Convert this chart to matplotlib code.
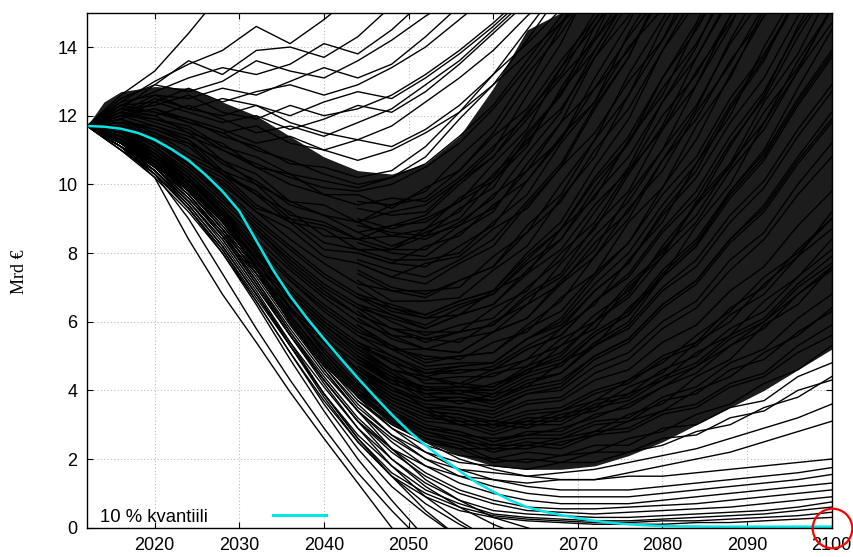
import matplotlib
matplotlib.use("Agg")
import matplotlib.pyplot as plt

# yearly grid of the simulated paths (every 4 years)
years = [2012, 2016, 2020, 2024, 2028, 2032, 2036, 2040, 2044, 2048, 2052, 2056,
         2060, 2064, 2068, 2072, 2076, 2080, 2084, 2088, 2092, 2096, 2100]
late_years = years[8:]   # segments that come out of the dense core (2044 ->)

# 10 % quantile (every 2 years)
q_years = list(range(2012, 2101, 2))
q10 = [11.70, 11.68, 11.62, 11.50, 11.30, 11.02, 10.70, 10.28, 9.80, 9.22,
       8.36, 7.50, 6.75, 6.10, 5.50, 4.92, 4.36, 3.82, 3.30, 2.82, 2.40, 2.02,
       1.66, 1.32, 1.05, 0.80, 0.60, 0.47, 0.37, 0.28, 0.20, 0.14, 0.10, 0.07,
       0.05, 0.04, 0.035, 0.03, 0.03, 0.03, 0.03, 0.03, 0.03, 0.03, 0.03]

# solid core of the fan, where the paths overlap completely
core_years = [2012, 2014, 2016, 2020, 2024, 2028, 2032, 2036, 2040, 2044, 2048, 2052]
core_low = [11.7, 11.4, 11.2, 10.5, 9.8, 8.9, 7.5, 5.9, 4.7, 3.8, 3.5, 6.0]
core_high = [11.7, 12.4, 12.7, 12.85, 12.8, 12.4, 12.0, 11.4, 10.8, 10.3, 9.4, 6.0]

# dense, almost black part of the fan (lines too close to tell apart)
dense_years = [2040, 2044, 2048, 2052, 2056, 2060, 2064, 2068, 2072, 2076, 2080,
               2084, 2088, 2092, 2096, 2100]
dense_low = [4.8, 3.8, 3.0, 2.5, 2.1, 1.8, 1.7, 1.7, 1.8, 2.1, 2.5, 3.0, 3.5, 4.0, 4.6, 5.2]
dense_high = [10.8, 10.4, 10.3, 10.6, 11.4, 12.8, 14.5, 15, 15, 15, 15, 15, 15, 15, 15, 15]

upper_paths = [
    [11.7, 12.6, 13.3, 14.4, 15.6],
    [11.7, 12.4, 13.0, 13.5, 13.9, 14.6, 14.1, 14.8, 15.6],
    [11.7, 12.5, 12.9, 13.6, 13.2, 13.9, 14.0, 13.7, 14.3, 15.2],
    [11.7, 12.3, 12.7, 13.1, 13.4, 13.2, 13.5, 14.1, 13.8, 14.5, 15.4],
    [11.7, 12.2, 12.9, 12.7, 13.0, 13.6, 13.3, 13.1, 13.6, 14.2, 14.9, 15.5],
    [11.7, 12.1, 12.6, 12.5, 12.8, 12.6, 13.0, 13.4, 13.1, 13.5, 14.3, 15.2],
    [11.7, 12.3, 12.4, 12.8, 12.4, 12.7, 12.9, 12.6, 12.9, 13.4, 14.0, 14.8, 15.6],
    [11.7, 12.0, 12.5, 12.2, 12.5, 12.3, 12.0, 12.4, 12.7, 12.5, 13.1, 13.8, 14.6, 15.5],
    [11.7, 12.2, 12.3, 12.6, 12.1, 11.9, 12.3, 12.0, 12.2, 12.6, 13.2, 13.9, 14.7, 15.6],
    [11.7, 11.9, 12.4, 12.1, 11.8, 12.0, 11.6, 11.9, 12.3, 12.1, 12.7, 13.5, 14.4, 15.3],
    [11.7, 12.1, 12.0, 12.3, 11.9, 11.5, 11.7, 11.4, 11.8, 12.2, 12.9, 13.6, 14.5, 15.4],
    [11.7, 12.4, 12.6, 12.2, 12.0, 12.3, 11.8, 11.5, 11.3, 11.7, 12.4, 13.1, 13.9, 14.9, 15.8],
    [11.7, 12.2, 12.1, 11.8, 11.5, 11.7, 11.2, 11.0, 11.3, 11.1, 11.6, 12.3, 13.2, 14.1, 15.1],
    [11.7, 12.0, 12.2, 11.9, 11.6, 11.2, 11.4, 11.0, 10.7, 11.0, 11.5, 12.1, 12.9, 13.8, 14.7, 15.6],
]

middle_paths = [
    [11.7, 12.0, 11.9, 11.6, 11.0, 10.5, 10.0, 9.7, 9.4, 9.6, 9.5, 10.2, 11.1, 12.0, 13.4, 14.6, 15.9],
    [11.7, 11.8, 11.6, 11.2, 10.7, 10.0, 9.5, 9.1, 8.9, 9.2, 9.4, 10.1, 10.8, 11.9, 13.1, 14.2, 15.7],
    [11.7, 12.2, 12.0, 11.5, 11.2, 10.5, 10.3, 9.7, 9.7, 9.3, 9.9, 10.4, 11.4, 12.2, 13.6, 14.8, 16.1],
    [11.7, 11.9, 11.6, 11.3, 10.6, 10.1, 9.4, 9.1, 8.6, 8.8, 8.9, 9.5, 10.1, 11.3, 12.2, 13.7, 14.9, 16.2],
    [11.7, 11.6, 11.5, 10.9, 10.4, 9.7, 9.2, 8.5, 8.4, 8.1, 8.5, 8.8, 9.7, 10.4, 11.8, 12.8, 14.3, 15.6],
    [11.7, 12.1, 11.8, 11.5, 10.7, 10.3, 9.5, 9.4, 8.9, 9.4, 9.8, 10.8, 11.7, 13.2, 14.4, 15.9],
    [11.7, 11.7, 11.4, 10.8, 10.3, 9.4, 8.9, 8.1, 8.0, 7.7, 8.2, 8.5, 9.4, 10.1, 11.4, 12.4, 14.0, 15.1, 16.4],
    [11.7, 11.5, 11.3, 10.7, 10.2, 9.3, 9.0, 8.3, 8.1, 8.1, 8.7, 9.2, 10.3, 11.2, 12.7, 13.9, 15.5],
    [11.7, 12.0, 11.7, 11.3, 10.4, 10.0, 9.1, 8.9, 8.4, 8.5, 8.7, 9.6, 10.2, 11.5, 12.6, 14.2, 15.4],
    [11.7, 11.9, 11.4, 11.2, 10.3, 9.7, 8.9, 8.7, 8.1, 8.1, 8.1, 8.8, 9.3, 10.4, 11.3, 12.8, 13.9, 15.5],
    [11.7, 11.6, 11.3, 10.6, 10.1, 9.2, 8.7, 7.9, 7.7, 7.3, 7.7, 7.9, 8.7, 9.3, 10.5, 11.5, 13.0, 14.2, 15.8],
    [11.7, 11.9, 11.5, 11.1, 10.3, 9.8, 9.0, 8.8, 8.4, 8.8, 9.1, 10.0, 10.8, 12.1, 13.2, 14.8, 16.0],
    [11.7, 12.1, 11.9, 11.7, 11.1, 10.8, 10.3, 10.1, 9.9, 10.2, 10.6, 11.4, 12.3, 13.6, 14.9, 16.2],
    [11.7, 12.3, 12.1, 11.9, 11.4, 11.1, 10.6, 10.5, 10.2, 10.4, 11.1, 12.1, 13.2, 14.5, 15.8],
    [11.7, 11.8, 11.7, 11.4, 11.0, 10.6, 10.2, 9.9, 9.8, 10.0, 10.5, 11.2, 12.2, 13.4, 14.7, 16.0],
    [11.7, 12.0, 12.2, 11.8, 11.5, 11.0, 10.7, 10.3, 10.0, 10.2, 10.8, 11.9, 12.9, 14.2, 15.6],
]

lower_paths = [
    [11.7, 11.6, 11.2, 10.5, 9.6, 8.7, 7.8, 7.0, 6.4, 6.1, 5.8, 6.2, 6.5, 7.4, 8.1, 9.4, 10.4, 12.0, 13.2, 14.9, 16.0],
    [11.7, 11.8, 11.3, 10.7, 9.9, 9.0, 8.2, 7.4, 6.8, 6.5, 6.2, 6.6, 6.9, 7.9, 8.7, 10.1, 11.2, 12.8, 14.1, 15.8],
    [11.7, 11.5, 11.0, 10.3, 9.4, 8.4, 7.5, 6.7, 6.0, 5.6, 5.2, 5.5, 5.7, 6.5, 7.1, 8.3, 9.2, 10.7, 11.9, 13.6, 14.9, 16.4],
    [11.7, 11.7, 11.1, 10.4, 9.5, 8.6, 7.6, 6.8, 6.2, 5.8, 5.7, 5.7, 6.4, 6.9, 8.0, 8.9, 10.4, 11.6, 13.3, 14.7, 16.2],
    [11.7, 11.4, 10.9, 10.1, 9.2, 8.2, 7.2, 6.4, 5.7, 5.3, 4.8, 5.0, 5.1, 5.8, 6.3, 7.4, 8.3, 9.7, 10.8, 12.5, 13.8, 15.4],
    [11.7, 11.6, 11.1, 10.3, 9.3, 8.3, 7.3, 6.5, 5.8, 5.2, 5.2, 5.1, 5.7, 6.1, 7.1, 7.9, 9.3, 10.4, 12.1, 13.5, 15.2],
    [11.7, 11.5, 10.8, 10.0, 9.0, 7.9, 6.9, 6.0, 5.3, 4.9, 4.4, 4.6, 4.6, 5.2, 5.6, 6.6, 7.4, 8.7, 9.8, 11.4, 12.7, 14.5, 15.9],
    [11.7, 11.3, 10.8, 9.9, 8.9, 7.8, 6.8, 5.9, 5.2, 4.6, 4.4, 4.1, 4.5, 4.7, 5.5, 6.0, 7.1, 8.0, 9.4, 10.5, 12.1, 13.4, 15.1],
    [11.7, 11.6, 11.0, 10.2, 9.1, 8.0, 7.0, 6.1, 5.4, 5.0, 4.5, 4.7, 4.8, 5.5, 6.0, 7.1, 8.0, 9.4, 10.6, 12.3, 13.7, 15.4],
    [11.7, 11.4, 10.7, 9.8, 8.8, 7.7, 6.7, 5.8, 5.0, 4.5, 3.9, 4.0, 3.9, 4.4, 4.7, 5.6, 6.2, 7.4, 8.3, 9.7, 10.8, 12.4, 13.8],
    [11.7, 11.2, 10.6, 9.7, 8.6, 7.5, 6.4, 5.5, 4.8, 4.3, 3.7, 3.8, 3.7, 4.2, 4.5, 5.3, 5.9, 7.0, 7.8, 9.1, 10.1, 11.6, 12.9],
    [11.7, 11.5, 10.9, 10.0, 8.9, 7.8, 6.8, 5.9, 5.1, 4.6, 4.0, 4.1, 4.1, 4.7, 5.1, 6.0, 6.7, 7.9, 8.9, 10.4, 11.6, 13.3, 14.7],
    [11.7, 11.3, 10.5, 9.6, 8.5, 7.4, 6.3, 5.4, 4.6, 4.1, 3.5, 3.5, 3.4, 3.9, 4.1, 4.9, 5.4, 6.4, 7.1, 8.3, 9.2, 10.6, 11.8],
    [11.7, 11.6, 11.2, 10.5, 9.7, 8.8, 7.9, 7.1, 6.5, 6.2, 5.9, 6.4, 6.8, 7.8, 8.7, 10.2, 11.4, 13.1, 14.5, 16.2],
    [11.7, 11.8, 11.4, 10.8, 10.0, 9.2, 8.4, 7.7, 7.1, 6.9, 6.7, 7.2, 7.6, 8.6, 9.5, 11.0, 12.2, 13.9, 15.3],
    [11.7, 11.5, 11.2, 10.6, 9.8, 8.9, 8.1, 7.3, 6.7, 6.4, 6.1, 6.5, 6.8, 7.7, 8.4, 9.7, 10.8, 12.4, 13.7, 15.5],
    [11.7, 11.7, 11.3, 10.6, 9.7, 8.7, 7.7, 6.9, 6.2, 5.8, 5.4, 5.7, 5.9, 6.7, 7.3, 8.5, 9.5, 11.0, 12.3, 14.1, 15.5],
    [11.7, 11.4, 10.8, 10.1, 9.2, 8.2, 7.2, 6.3, 5.6, 5.2, 4.7, 4.8, 4.8, 5.5, 5.9, 6.9, 7.7, 9.1, 10.2, 11.8, 13.1, 14.9, 16.3],
    [11.7, 11.6, 10.9, 10.1, 9.1, 8.0, 6.9, 6.0, 5.3, 4.8, 4.2, 4.2, 4.1, 4.6, 4.9, 5.7, 6.3, 7.5, 8.4, 9.8, 10.9, 12.5, 13.9],
    [11.7, 11.3, 10.7, 9.8, 8.7, 7.6, 6.6, 5.7, 4.9, 4.4, 3.8, 3.8, 3.6, 4.0, 4.2, 5.0, 5.5, 6.5, 7.2, 8.4, 9.3, 10.7, 11.9],
]

bottom_paths = [
    [11.7, 11.4, 10.9, 10.2, 9.2, 8.0, 6.6, 5.4, 4.4, 3.7, 3.3, 3.0, 3.0, 3.1, 3.4, 3.7, 4.3, 4.8, 5.6, 6.3, 7.3, 8.0, 9.0],
    [11.7, 11.3, 10.8, 10.0, 9.0, 7.8, 6.4, 5.2, 4.2, 3.4, 2.9, 2.7, 2.6, 2.7, 2.9, 3.2, 3.6, 4.1, 4.7, 5.3, 6.0, 6.8, 7.6],
    [11.7, 11.2, 10.7, 9.9, 8.9, 7.6, 6.2, 5.0, 3.9, 3.1, 2.6, 2.3, 2.3, 2.3, 2.5, 2.7, 3.1, 3.4, 4.0, 4.4, 5.1, 5.6, 6.4],
    [11.7, 11.3, 10.7, 9.9, 8.8, 7.5, 6.1, 4.8, 3.7, 2.9, 2.4, 2.1, 2.0, 1.9, 2.1, 2.2, 2.6, 2.8, 3.3, 3.6, 4.2, 4.6, 5.3],
    [11.7, 11.1, 10.6, 9.8, 8.7, 7.4, 6.0, 4.7, 3.5, 2.7, 2.2, 1.9, 1.8, 1.7, 1.9, 1.9, 2.2, 2.4, 2.8, 3.0, 3.5, 3.8, 4.4],
    [11.7, 11.2, 10.6, 9.7, 8.6, 7.2, 5.8, 4.5, 3.4, 2.6, 2.0, 1.7, 1.6, 1.5, 1.6, 1.7, 1.9, 2.1, 2.3, 2.6, 2.9, 3.2, 3.6],
    [11.7, 11.4, 10.9, 10.2, 9.3, 8.1, 6.8, 5.6, 4.6, 3.9, 3.5, 3.1, 3.1, 3.0, 3.3, 3.5, 4.1, 4.5, 5.4, 6.0, 7.1, 7.9, 9.2],
    [11.7, 11.2, 10.5, 9.6, 8.5, 7.1, 5.6, 4.3, 3.1, 2.3, 1.8, 1.5, 1.4, 1.3, 1.4, 1.4, 1.6, 1.8, 2.0, 2.2, 2.5, 2.8, 3.1],
    [11.7, 11.3, 10.8, 10.1, 9.1, 7.8, 6.4, 5.1, 4.1, 3.3, 2.8, 2.5, 2.4, 2.4, 2.6, 2.8, 3.3, 3.6, 4.4, 4.9, 5.9, 6.5, 7.6],
    [11.7, 11.4, 10.9, 10.1, 9.2, 8.0, 6.7, 5.5, 4.5, 3.8, 3.4, 3.0, 3.0, 2.9, 3.2, 3.4, 3.9, 4.3, 5.1, 5.6, 6.6, 7.3, 8.4],
]

flat_paths = [
    [11.7, 11.3, 10.8, 10.1, 9.1, 7.8, 6.4, 5.1, 4.0, 3.1, 2.5, 2.0, 1.7, 1.5, 1.4, 1.4, 1.5, 1.5, 1.6, 1.7, 1.8, 1.9, 2.0],
    [11.7, 11.2, 10.7, 9.9, 8.9, 7.6, 6.2, 4.9, 3.8, 2.9, 2.2, 1.7, 1.4, 1.2, 1.1, 1.1, 1.1, 1.2, 1.3, 1.4, 1.5, 1.6, 1.75],
    [11.7, 11.3, 10.6, 9.8, 8.7, 7.4, 6.0, 4.7, 3.6, 2.7, 2.0, 1.5, 1.2, 1.0, 0.9, 0.9, 0.9, 1.0, 1.1, 1.2, 1.3, 1.4, 1.55],
    [11.7, 11.1, 10.5, 9.7, 8.6, 7.3, 5.9, 4.6, 3.4, 2.5, 1.8, 1.3, 1.0, 0.8, 0.7, 0.7, 0.7, 0.8, 0.9, 1.0, 1.1, 1.2, 1.3],
    [11.7, 11.2, 10.5, 9.6, 8.5, 7.1, 5.7, 4.4, 3.2, 2.3, 1.6, 1.1, 0.8, 0.6, 0.55, 0.55, 0.6, 0.65, 0.7, 0.8, 0.9, 1.0, 1.1],
    [11.7, 11.0, 10.4, 9.5, 8.4, 7.0, 5.6, 4.3, 3.1, 2.2, 1.5, 1.0, 0.7, 0.5, 0.45, 0.4, 0.45, 0.5, 0.55, 0.6, 0.7, 0.8, 0.9],
    [11.7, 11.1, 10.3, 9.4, 8.2, 6.8, 5.4, 4.1, 2.9, 2.0, 1.3, 0.8, 0.5, 0.4, 0.35, 0.3, 0.3, 0.35, 0.4, 0.45, 0.5, 0.6, 0.75],
    [11.7, 11.0, 10.3, 9.3, 8.1, 6.7, 5.3, 3.9, 2.7, 1.8, 1.1, 0.7, 0.4, 0.3, 0.25, 0.2, 0.2, 0.25, 0.3, 0.35, 0.4, 0.5, 0.6],
    [11.7, 11.2, 10.4, 9.4, 8.2, 6.8, 5.3, 3.9, 2.6, 1.6, 1.0, 0.6, 0.35, 0.25, 0.2, 0.15, 0.15, 0.2, 0.2, 0.25, 0.3, 0.35, 0.45],
    [11.7, 11.0, 10.2, 9.2, 8.0, 6.6, 5.1, 3.7, 2.5, 1.5, 0.9, 0.5, 0.3, 0.2, 0.15, 0.1, 0.1, 0.1, 0.15, 0.15, 0.2, 0.25, 0.3],
]

zero_paths = [
    [11.7, 11.1, 10.2, 8.4, 6.8, 5.4, 3.95, 2.6, 1.3, 0.0, -1.2],
    [11.7, 11.1, 10.3, 9.3, 8.0, 6.5, 4.9, 3.4, 2.0, 0.8, -0.3],
    [11.7, 11.2, 10.5, 9.5, 8.3, 6.9, 5.4, 3.9, 2.6, 1.5, 0.5, -0.3],
    [11.7, 11.1, 10.4, 9.5, 8.4, 7.0, 5.6, 4.2, 2.9, 1.8, 0.9, 0.2, -0.4],
    [11.7, 11.3, 10.6, 9.7, 8.5, 7.2, 5.7, 4.3, 3.1, 2.0, 1.2, 0.6, 0.1, -0.3],
    [11.7, 11.2, 10.4, 9.4, 8.2, 6.8, 5.3, 3.8, 2.5, 1.5, 0.7, 0.1, -0.4],
    [11.7, 11.3, 10.6, 9.8, 8.7, 7.4, 6.0, 4.6, 3.4, 2.3, 1.4, 0.8, 0.3, 0.0, -0.3],
    [11.7, 11.1, 10.3, 9.3, 8.1, 6.6, 5.1, 3.6, 2.3, 1.2, 0.4, -0.3],
    [11.7, 11.1, 10.3, 9.0, 7.4, 5.8, 4.3, 2.9, 1.6, 0.5, -0.5],
]

# visible parts of paths after they leave the solid core (from 2044)
rising_segments = [
    [9.0, 8.7, 9.0, 9.5, 10.6, 11.6, 13.4, 15.0, 16.3],
    [8.3, 8.0, 7.9, 8.6, 9.2, 10.6, 11.8, 13.7, 15.3],
    [7.7, 7.3, 7.1, 7.7, 8.2, 9.4, 10.5, 12.2, 13.7, 15.7],
    [7.2, 6.6, 6.6, 6.7, 7.5, 8.2, 9.6, 10.8, 12.6, 14.2, 16.2],
    [6.7, 6.2, 5.8, 6.2, 6.5, 7.5, 8.4, 9.9, 11.2, 13.1, 14.7, 16.7],
    [6.3, 5.6, 5.5, 5.4, 6.0, 6.5, 7.7, 8.7, 10.3, 11.7, 13.7, 15.4],
    [5.9, 5.3, 4.9, 5.0, 5.1, 5.9, 6.6, 7.9, 9.0, 10.7, 12.2, 14.2, 15.9],
    [9.3, 9.1, 9.2, 10.1, 11.0, 12.6, 14.1, 16.1],
    [8.6, 8.2, 8.6, 9.0, 10.1, 11.1, 12.8, 14.3, 16.3],
    [8.0, 7.7, 7.6, 8.2, 8.8, 10.1, 11.3, 13.1, 14.7, 16.7],
    [7.4, 6.9, 6.9, 7.0, 7.9, 8.6, 10.0, 11.3, 13.2, 14.8, 16.5],
    [7.0, 6.4, 6.2, 6.6, 6.9, 8.0, 8.9, 10.5, 11.9, 13.9, 15.6],
    [6.5, 6.0, 5.6, 5.9, 6.1, 7.0, 7.8, 9.2, 10.5, 12.4, 14.0, 16.1],
    [6.1, 5.5, 5.2, 5.1, 5.7, 6.1, 7.2, 8.1, 9.7, 11.0, 12.9, 14.6, 16.7],
    [5.6, 5.0, 4.6, 4.7, 4.8, 5.5, 6.1, 7.3, 8.3, 9.9, 11.3, 13.2, 14.9, 16.8],
    [5.3, 4.6, 4.4, 4.2, 4.6, 4.9, 5.8, 6.5, 7.8, 8.9, 10.6, 12.0, 14.0, 15.7],
    [5.1, 4.5, 4.0, 4.0, 4.0, 4.6, 5.0, 6.0, 6.8, 8.2, 9.4, 11.1, 12.6, 14.6, 16.3],
    [4.9, 4.2, 3.9, 3.6, 3.9, 4.1, 4.8, 5.3, 6.4, 7.3, 8.8, 10.0, 11.8, 13.3, 15.2],
    [8.9, 8.5, 8.4, 8.9, 9.6, 10.9, 12.1, 13.9, 15.5],
    [8.1, 7.8, 7.8, 8.0, 8.9, 9.7, 11.2, 12.4, 14.4, 16.0],
    [7.5, 7.0, 6.8, 7.2, 7.6, 8.8, 9.7, 11.3, 12.6, 14.6, 16.2],
    [6.8, 6.3, 6.1, 6.2, 6.9, 7.4, 8.7, 9.6, 11.3, 12.6, 14.6, 16.2],
    [6.4, 5.8, 5.5, 5.7, 5.9, 6.8, 7.4, 8.8, 9.8, 11.6, 12.9, 14.9, 16.5],
    [5.9, 5.2, 5.0, 4.9, 5.4, 5.7, 6.7, 7.4, 8.9, 9.9, 11.7, 13.1, 15.1],
    [5.4, 4.8, 4.5, 4.5, 4.7, 5.3, 5.8, 6.9, 7.7, 9.2, 10.4, 12.2, 13.6, 15.6],
    [5.0, 4.3, 4.1, 3.9, 4.2, 4.5, 5.3, 5.8, 7.0, 7.9, 9.5, 10.6, 12.4, 13.8, 15.7],
    [4.7, 4.0, 3.7, 3.7, 3.7, 4.2, 4.5, 5.4, 6.0, 7.3, 8.2, 9.8, 11.0, 12.8, 14.5],
    [9.5, 9.4, 9.6, 10.4, 11.5, 12.9, 14.6, 16.4],
    [8.8, 8.6, 8.5, 9.3, 9.9, 11.4, 12.6, 14.6, 16.1],
    [7.8, 7.5, 7.3, 7.8, 8.4, 9.5, 10.6, 12.3, 13.7, 15.8],
]

slow_segments = [
    [4.4, 3.8, 3.4, 3.3, 3.1, 3.4, 3.5, 4.0, 4.3, 5.0, 5.4, 6.4, 7.0, 8.1, 9.0],
    [4.2, 3.6, 3.1, 3.0, 2.7, 3.0, 3.0, 3.5, 3.7, 4.3, 4.7, 5.5, 6.0, 7.0, 7.7],
    [4.6, 4.0, 3.6, 3.5, 3.3, 3.7, 3.8, 4.5, 4.9, 5.8, 6.4, 7.5, 8.4, 9.7, 10.8],
    [4.0, 3.3, 2.9, 2.7, 2.4, 2.6, 2.6, 3.0, 3.1, 3.7, 3.9, 4.6, 4.9, 5.7, 6.3],
    [4.8, 4.2, 3.9, 3.9, 3.7, 4.1, 4.3, 5.0, 5.5, 6.5, 7.2, 8.4, 9.4, 10.8, 12.1],
    [3.9, 3.2, 2.7, 2.5, 2.2, 2.4, 2.3, 2.7, 2.8, 3.3, 3.5, 4.1, 4.4, 5.1, 5.6],
    [5.0, 4.4, 4.1, 4.1, 4.0, 4.5, 4.8, 5.6, 6.2, 7.3, 8.2, 9.6, 10.7, 12.3, 13.7],
    [4.3, 3.7, 3.3, 3.2, 2.9, 3.2, 3.2, 3.7, 3.9, 4.6, 5.0, 5.8, 6.3, 7.3, 8.1],
    [3.8, 3.1, 2.6, 2.4, 2.0, 2.2, 2.1, 2.4, 2.4, 2.9, 3.0, 3.5, 3.7, 4.4, 4.8],
    [4.5, 3.9, 3.5, 3.4, 3.2, 3.6, 3.7, 4.3, 4.6, 5.4, 5.9, 6.9, 7.6, 8.8, 9.8],
    [4.1, 3.5, 3.0, 2.8, 2.5, 2.7, 2.7, 3.1, 3.2, 3.8, 4.1, 4.8, 5.2, 6.1, 6.8],
    [4.9, 4.3, 4.0, 4.0, 3.8, 4.3, 4.5, 5.3, 5.8, 6.9, 7.6, 8.9, 9.9, 11.4, 12.7],
    [3.7, 3.0, 2.5, 2.3, 1.9, 2.0, 1.9, 2.2, 2.2, 2.6, 2.7, 3.2, 3.4, 4.0, 4.3],
    [4.7, 4.1, 3.7, 3.7, 3.5, 3.9, 4.0, 4.7, 5.1, 6.0, 6.6, 7.8, 8.6, 10.0, 11.2],
    [4.3, 3.6, 3.2, 3.1, 2.8, 3.1, 3.1, 3.6, 3.8, 4.4, 4.8, 5.6, 6.1, 7.1, 7.9],
    [5.2, 4.6, 4.3, 4.4, 4.4, 4.9, 5.3, 6.2, 6.9, 8.1, 9.1, 10.6, 11.8, 13.6, 15.1],
    [3.9, 3.2, 2.8, 2.6, 2.3, 2.5, 2.4, 2.8, 2.9, 3.4, 3.6, 4.2, 4.5, 5.3, 5.9],
    [4.5, 3.8, 3.4, 3.3, 3.0, 3.3, 3.4, 3.9, 4.2, 4.9, 5.3, 6.2, 6.8, 7.9, 8.7],
    [5.4, 4.8, 4.5, 4.6, 4.6, 5.2, 5.6, 6.6, 7.3, 8.6, 9.6, 11.2, 12.5, 14.3, 15.9],
    [4.0, 3.4, 2.9, 2.8, 2.5, 2.8, 2.8, 3.3, 3.5, 4.1, 4.5, 5.3, 5.8, 6.8, 7.5],
]

legend_label = "10 % kvantiili"
marked_point = (2100, 0.0)

plt.rcParams['font.family'] = ['Liberation Sans', 'DejaVu Sans']

fig = plt.figure(figsize=(8.54, 5.57), dpi=100)
ax = fig.add_axes([0.1019, 0.0526, 0.8720, 0.9246])

fan_color = '#1c1c1c'
ax.fill_between(dense_years, dense_low, dense_high, color=fan_color, lw=0, zorder=1)
ax.fill_between(core_years, core_low, core_high, color=fan_color, lw=0, zorder=1)

for group in (upper_paths, middle_paths, lower_paths, bottom_paths, flat_paths, zero_paths):
    for p in group:
        ax.plot(years[:len(p)], p, color='black', lw=1.0, zorder=2)
for group in (rising_segments, slow_segments):
    for p in group:
        ax.plot(late_years[:len(p)], p, color='black', lw=1.0, zorder=2)

q_line, = ax.plot(q_years, q10, color='#00e5e5', lw=1.8, zorder=3)

ax.set_xlim(2012, 2100)
ax.set_ylim(0, 15)
ax.set_xticks(range(2020, 2101, 10))
ax.set_yticks(range(0, 15, 2))
ax.tick_params(direction='in', length=4, width=0.8, labelsize=13, top=True, right=True,
               pad=7, colors='black')
ax.grid(True, color='#bbbbbb', lw=0.8, linestyle=(0, (1, 2)), zorder=0)
ax.set_axisbelow(True)
for s in ax.spines.values():
    s.set_linewidth(1.0)
    s.set_zorder(4)

fig.text(20 / 854, 1 - 272 / 557, 'Mrd €', rotation=90, ha='center', va='center',
         family='Liberation Serif', fontsize=13)

leg = ax.legend([q_line], [legend_label], loc='lower left', bbox_to_anchor=(0.0175, 0.004),
                markerfirst=False, frameon=False, handlelength=2.9, handletextpad=3.5,
                borderpad=0, borderaxespad=0, fontsize=13.3)
leg.get_lines()[0].set_linewidth(2.2)

ax.plot([marked_point[0]], [marked_point[1]], 'o', ms=28.5, mfc='none', mec='red',
        mew=1.6, clip_on=False, zorder=10)

fig.savefig('out.png', dpi=100)
